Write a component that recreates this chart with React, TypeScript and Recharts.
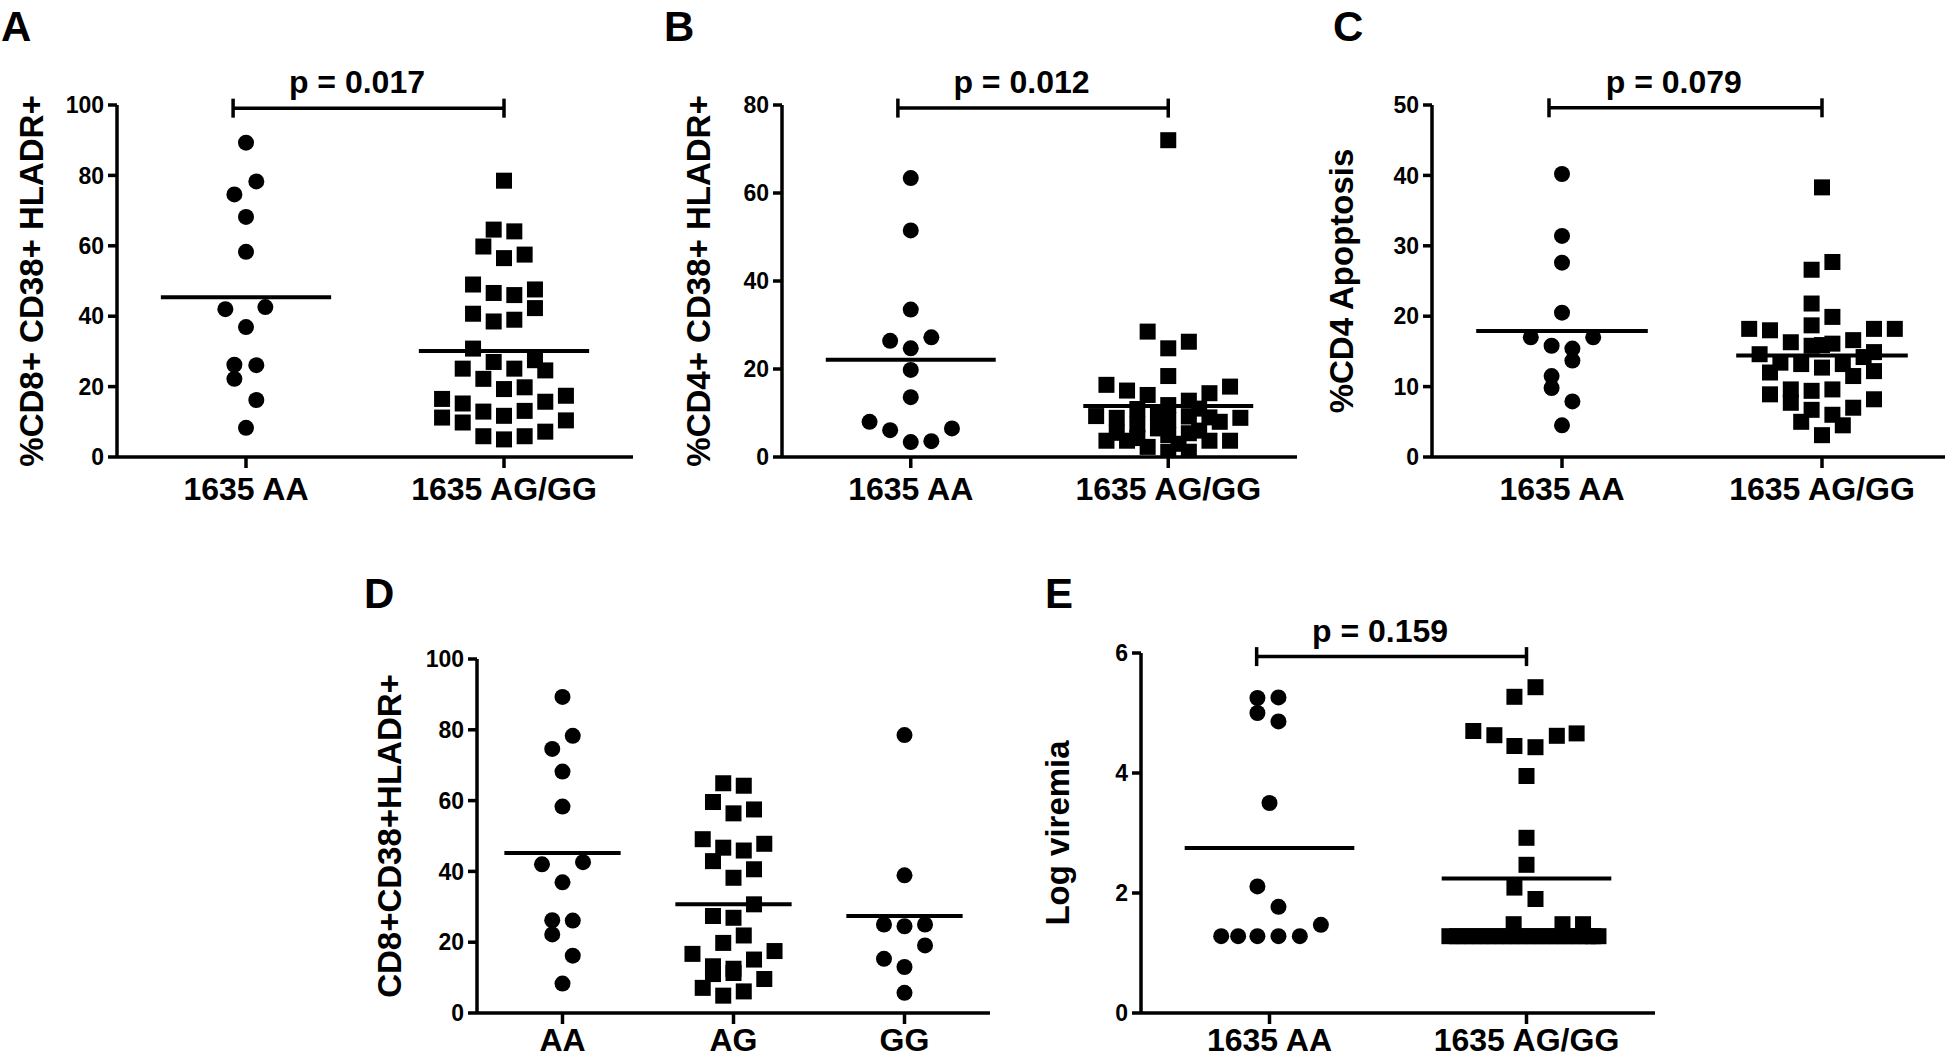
import React from 'react';
import { ScatterChart, Scatter, XAxis, YAxis, ReferenceLine, ReferenceDot } from 'recharts';

const FONT = '"Liberation Sans", Arial, Helvetica, sans-serif';

// ---- Panel A: %CD8+ CD38+ HLADR+ ----
const A_CATS = ['1635 AA', '1635 AG/GG'];
const A_TICKS = [0, 20, 40, 60, 80, 100];
const A_AA = [89.3, 78.3, 74.6, 68.2, 58.3, 42.0, 42.6, 36.9, 26.2, 26.1, 22.2, 16.2, 8.3];
const A_AA_JIT = [0, 0.04, -0.045, 0, 0, -0.08, 0.075, 0, -0.045, 0.04, -0.045, 0.04, 0];
const A_AG = [78.5, 64.6, 64.1, 59.8, 57.5, 56.5, 49.0, 47.6, 46.6, 46.0, 42.3, 40.7, 38.5, 39.0, 30.8, 27.5, 27.0, 25.1, 25.1, 24.6, 22.2, 19.8, 19.3, 17.4, 16.5, 15.2, 15.7, 12.9, 13.1, 11.7, 11.2, 10.4, 9.8, 7.2, 5.9, 5.9, 5.0];
const A_AG_JIT = [0, -0.04, 0.04, -0.08, 0.08, 0, -0.12, 0.12, -0.04, 0.04, 0.12, -0.12, -0.04, 0.04, -0.12, 0.12, -0.04, 0.04, -0.16, 0.16, -0.08, 0.08, 0, 0.24, -0.24, -0.16, 0.16, -0.08, 0.08, 0, -0.24, 0.24, -0.16, 0.16, -0.08, 0.08, 0];
const A_MEANS = [45.4, 30.1];

// ---- Panel B: %CD4+ CD38+ HLADR+ ----
const B_TICKS = [0, 20, 40, 60, 80];
const B_AA = [63.4, 51.5, 33.5, 26.4, 27.2, 24.7, 19.8, 13.6, 8.0, 6.1, 6.5, 3.4, 3.6];
const B_AA_JIT = [0, 0, 0, -0.08, 0.08, 0, 0, 0, -0.16, -0.08, 0.16, 0, 0.08];
const B_AG = [72.0, 28.5, 26.2, 24.7, 18.4, 16.4, 15.1, 14.1, 14.5, 16.0, 9.3, 8.9, 3.7, 3.7, 10.9, 7.4, 4.3, 2.3, 11.8, 8.4, 5.0, 1.2, 12.8, 9.2, 5.4, 1.2, 9.0, 3.7, 3.7, 8.9, 8.0, 6.5, 3.0, 6.0, 5.5, 10.0, 11.0];
const B_AG_JIT = [0, -0.08, 0.08, 0, 0, -0.24, -0.16, -0.08, 0.16, 0.24, -0.28, -0.2, -0.24, -0.16, -0.12, -0.12, -0.12, -0.08, 0, 0, 0, 0, 0.08, 0.08, 0.08, 0.08, 0.16, 0.16, 0.24, 0.28, 0.2, -0.04, 0.04, 0.12, -0.2, -0.04, 0.12];
const B_MEANS = [22.1, 11.6];

// ---- Panel C: %CD4 Apoptosis ----
const C_TICKS = [0, 10, 20, 30, 40, 50];
const C_AA = [40.2, 31.4, 27.6, 20.5, 17.0, 17.0, 15.8, 15.4, 13.7, 11.5, 9.8, 7.9, 4.5];
const C_AA_JIT = [0, 0, 0, 0, -0.12, 0.12, -0.04, 0.04, 0.04, -0.04, -0.04, 0.04, 0];
const C_AG = [38.3, 27.7, 26.6, 21.8, 19.9, 18.7, 18.2, 18.0, 18.2, 18.2, 16.3, 16.6, 15.8, 16.1, 14.6, 14.9, 13.4, 14.2, 13.2, 13.2, 12.7, 12.0, 12.2, 11.5, 8.9, 9.6, 9.4, 9.6, 8.2, 7.7, 6.7, 7.0, 5.0, 6.0, 4.5, 3.1, 15.9];
const C_AG_JIT = [0, 0.04, -0.04, -0.04, 0.04, -0.04, -0.28, -0.2, 0.2, 0.28, -0.12, 0.12, -0.04, 0.04, -0.24, 0.2, -0.16, 0.16, -0.08, 0.08, 0, -0.2, 0.2, 0.12, -0.2, -0.12, -0.04, 0.04, 0.2, -0.12, -0.04, 0.12, -0.08, 0.04, 0.08, 0, 0];
const C_MEANS = [17.9, 14.4];

// ---- Panel D: CD8+CD38+HLADR+ by genotype ----
const D_CATS = ['AA', 'AG', 'GG'];
const D_AA_JIT = [0, 0.06, -0.06, 0, 0, -0.12, 0.12, 0, -0.06, 0.06, -0.06, 0.06, 0];
const D_AG = [64.9, 64.2, 59.6, 57.5, 56.4, 49.1, 47.8, 46.7, 45.9, 42.9, 40.6, 38.2, 30.7, 27.4, 26.9, 21.9, 19.8, 17.5, 16.7, 15.1, 13.2, 11.3, 9.6, 7.1, 6.1, 4.9, 11.0, 12.5];
const D_AG_JIT = [-0.06, 0.06, -0.12, 0.12, 0, -0.18, 0.18, -0.06, 0.06, -0.12, 0.12, 0, 0.12, -0.12, 0, 0.06, -0.06, 0.24, -0.24, 0.12, -0.12, 0, 0.18, -0.18, 0.06, -0.06, -0.12, 0];
const D_GG = [78.5, 38.9, 25.0, 24.5, 25.0, 19.1, 15.3, 13.0, 5.7];
const D_GG_JIT = [0, 0, -0.12, 0, 0.12, 0.12, -0.12, 0, 0];
const D_MEANS = [45.2, 30.7, 27.4];

// ---- Panel E: Log viremia ----
const E_TICKS = [0, 2, 4, 6];
const E_AA = [5.25, 5.26, 5.0, 4.86, 3.5, 2.11, 1.77, 1.47, 1.28, 1.28, 1.28, 1.28, 1.28];
const E_AA_JIT = [-0.047, 0.035, -0.047, 0.035, 0, -0.047, 0.035, 0.2, -0.188, -0.122, -0.047, 0.035, 0.118];
const E_AG = [5.43, 5.27, 4.70, 4.63, 4.66, 4.62, 4.45, 4.43, 3.95, 2.92, 2.47, 2.09, 1.90, 1.48, 1.48, 1.48,
  1.28, 1.28, 1.28, 1.28, 1.28, 1.28, 1.28, 1.28, 1.28, 1.28, 1.28, 1.28, 1.28, 1.28, 1.28, 1.28, 1.28, 1.28, 1.28, 1.28, 1.28];
const E_AG_JIT = [0.035, -0.047, -0.207, -0.125, 0.195, 0.118, -0.047, 0.035, 0, 0, 0, -0.047, 0.035, -0.05, 0.14, 0.22,
  -0.3, -0.27, -0.24, -0.21, -0.18, -0.15, -0.12, -0.09, -0.06, -0.03, 0, 0.03, 0.06, 0.09, 0.12, 0.15, 0.18, 0.21, 0.24, 0.26, 0.28];
const E_MEANS = [2.75, 2.24];

type Marker = 'circle' | 'square';
interface Group { values: number[]; jitter: number[]; marker: Marker }
interface Bracket { y: number; cap: number; text: string }

const circleShape = (p: any) => <circle cx={p.cx} cy={p.cy} r={8} fill="#000" />;
const squareShape = (p: any) => <rect x={p.cx - 8} y={p.cy - 8} width={16} height={16} fill="#000" />;

const toPoints = (g: Group, center: number) => g.values.map((v, i) => ({ x: center + g.jitter[i], y: v }));

interface PanelProps {
  left: number; top: number; width: number; height: number;
  plot: { x0: number; x1: number; y0: number; y1: number };
  cats: string[];
  yTicks: number[];
  yLabel: string;
  yLabelDist: number;
  groups: Group[];
  means: number[];
  meanHalf: number;
  bracket?: Bracket;
  xTickMargin?: number;
}

const Panel: React.FC<PanelProps> = ({ left, top, width, height, plot, cats, yTicks, yLabel, yLabelDist, groups, means, meanHalf, bracket, xTickMargin = 9 }) => {
  const xAxisH = 40;
  const margin = {
    top: plot.y0 - top,
    left: 0,
    right: left + width - plot.x1,
    bottom: top + height - plot.y1 - xAxisH,
  };
  const yAxisW = plot.x0 - left;
  const yMax = yTicks[yTicks.length - 1];
  const line = { stroke: '#000', strokeWidth: 3.5 };
  const yLabelContent = (props: any) => {
    const vb = props.viewBox || {};
    const cx = (vb.x ?? 0) + (vb.width ?? yAxisW) - yLabelDist;
    const cy = (vb.y ?? margin.top) + (vb.height ?? 0) / 2;
    return (
      <text x={cx} y={cy} transform={`rotate(-90, ${cx}, ${cy})`} textAnchor="middle" dominantBaseline="central"
        fontSize={33} fontWeight="bold" fontFamily={FONT} fill="#000">{yLabel}</text>
    );
  };
  return (
    <div style={{ position: 'absolute', left, top, width, height }}>
      <ScatterChart width={width} height={height} margin={margin}>
        <XAxis type="number" dataKey="x" domain={[0.5, cats.length + 0.5]} ticks={cats.map((_, i) => i + 1)}
          tickFormatter={(v: number) => cats[v - 1]} interval={0} allowDataOverflow height={xAxisH}
          axisLine={line} tickLine={line} tickSize={11} tickMargin={xTickMargin}
          tick={{ fill: '#000', fontSize: 32, fontWeight: 'bold', fontFamily: FONT }} />
        <YAxis type="number" dataKey="y" domain={[0, yMax]} ticks={yTicks} interval={0} allowDataOverflow width={yAxisW}
          axisLine={line} tickLine={line} tickSize={9} tickMargin={4}
          tick={{ fill: '#000', fontSize: 23, fontWeight: 'bold', fontFamily: FONT }}
          label={{ content: yLabelContent }} />
        {groups.map((g, i) => (
          <Scatter key={`g${i}`} data={toPoints(g, i + 1)} isAnimationActive={false}
            shape={g.marker === 'circle' ? circleShape : squareShape} />
        ))}
        {means.map((m, i) => (
          <ReferenceLine key={`m${i}`} segment={[{ x: i + 1 - meanHalf, y: m }, { x: i + 1 + meanHalf, y: m }]}
            stroke="#000" strokeWidth={4} ifOverflow="visible" />
        ))}
        {bracket && (
          <ReferenceLine segment={[{ x: 0.95, y: bracket.y }, { x: 2, y: bracket.y }]} stroke="#000" strokeWidth={3.5} ifOverflow="visible" />
        )}
        {bracket && (
          <ReferenceLine segment={[{ x: 0.95, y: bracket.y - bracket.cap }, { x: 0.95, y: bracket.y + bracket.cap }]} stroke="#000" strokeWidth={3.5} ifOverflow="visible" />
        )}
        {bracket && (
          <ReferenceLine segment={[{ x: 2, y: bracket.y - bracket.cap }, { x: 2, y: bracket.y + bracket.cap }]} stroke="#000" strokeWidth={3.5} ifOverflow="visible" />
        )}
        {bracket && (
          <ReferenceDot x={1.43} y={bracket.y} r={0} ifOverflow="visible"
            label={{ value: bracket.text, position: 'top', offset: 15, fill: '#000', fontSize: 32, fontWeight: 'bold', fontFamily: FONT }} />
        )}
      </ScatterChart>
    </div>
  );
};

const LETTERS = ['A', 'B', 'C', 'D', 'E'];

export default function App() {
  const letterPos = [[1, 41], [664, 41], [1333, 41], [364, 608], [1045, 608]];
  return (
    <div style={{ position: 'absolute', left: 0, top: 0, width: 1945, height: 1058, background: '#fff', overflow: 'hidden' }}>
      <Panel left={0} top={0} width={660} height={540} plot={{ x0: 117, x1: 633, y0: 105, y1: 457 }}
        cats={A_CATS} yTicks={A_TICKS} yLabel="%CD8+ CD38+ HLADR+" yLabelDist={86}
        groups={[{ values: A_AA, jitter: A_AA_JIT, marker: 'circle' }, { values: A_AG, jitter: A_AG_JIT, marker: 'square' }]}
        means={A_MEANS} meanHalf={0.33} bracket={{ y: 99.1, cap: 2.7, text: 'p = 0.017' }} />
      <Panel left={650} top={0} width={660} height={540} plot={{ x0: 782, x1: 1297, y0: 105, y1: 457 }}
        cats={A_CATS} yTicks={B_TICKS} yLabel="%CD4+ CD38+ HLADR+" yLabelDist={84}
        groups={[{ values: B_AA, jitter: B_AA_JIT, marker: 'circle' }, { values: B_AG, jitter: B_AG_JIT, marker: 'square' }]}
        means={B_MEANS} meanHalf={0.33} bracket={{ y: 79.3, cap: 2.16, text: 'p = 0.012' }} />
      <Panel left={1300} top={0} width={660} height={540} plot={{ x0: 1432, x1: 1952, y0: 105, y1: 457 }}
        cats={A_CATS} yTicks={C_TICKS} yLabel="%CD4 Apoptosis" yLabelDist={91}
        groups={[{ values: C_AA, jitter: C_AA_JIT, marker: 'circle' }, { values: C_AG, jitter: C_AG_JIT, marker: 'square' }]}
        means={C_MEANS} meanHalf={0.33} bracket={{ y: 49.6, cap: 1.35, text: 'p = 0.079' }} />
      <Panel left={350} top={560} width={660} height={498} plot={{ x0: 477, x1: 990, y0: 659, y1: 1013 }}
        cats={D_CATS} yTicks={A_TICKS} yLabel="CD8+CD38+HLADR+" yLabelDist={88} xTickMargin={4}
        groups={[{ values: A_AA, jitter: D_AA_JIT, marker: 'circle' }, { values: D_AG, jitter: D_AG_JIT, marker: 'square' }, { values: D_GG, jitter: D_GG_JIT, marker: 'circle' }]}
        means={D_MEANS} meanHalf={0.34} />
      <Panel left={1000} top={560} width={680} height={498} plot={{ x0: 1141, x1: 1655, y0: 653, y1: 1013 }}
        cats={A_CATS} yTicks={E_TICKS} yLabel="Log viremia" yLabelDist={84} xTickMargin={4}
        groups={[{ values: E_AA, jitter: E_AA_JIT, marker: 'circle' }, { values: E_AG, jitter: E_AG_JIT, marker: 'square' }]}
        means={E_MEANS} meanHalf={0.33} bracket={{ y: 5.94, cap: 0.158, text: 'p = 0.159' }} />
      <svg width={1945} height={1058} style={{ position: 'absolute', left: 0, top: 0, pointerEvents: 'none' }}>
        {LETTERS.map((l, i) => (
          <text key={l} x={letterPos[i][0]} y={letterPos[i][1]} fontSize={42} fontWeight="bold" fontFamily={FONT} fill="#000">{l}</text>
        ))}
      </svg>
    </div>
  );
}
